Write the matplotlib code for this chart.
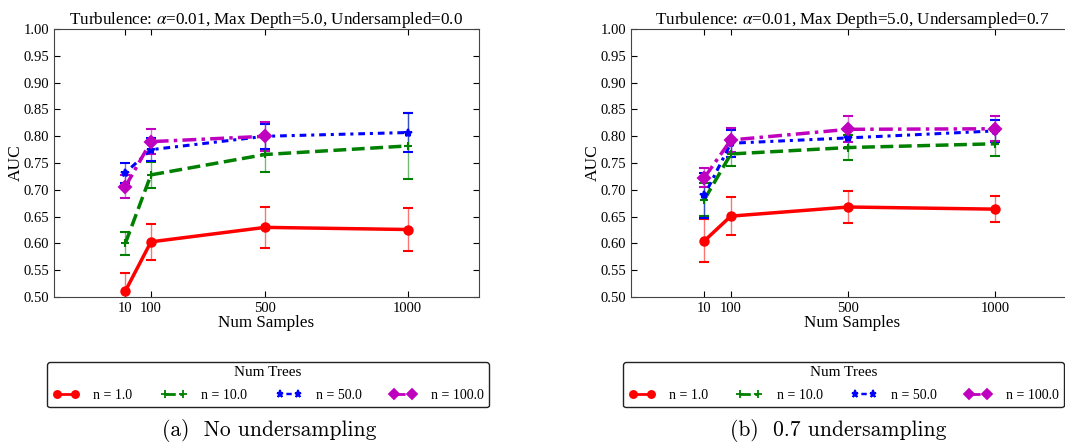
import matplotlib.pyplot as plt
import numpy as np
from matplotlib.lines import Line2D

plt.rcParams["font.family"] = "Liberation Serif"
plt.rcParams["mathtext.fontset"] = "stix"

samples = [10, 100, 500, 1000]
labels = ["n = 1.0", "n = 10.0", "n = 50.0", "n = 100.0"]

# panel (a): undersampled = 0.0
auc_a = [
    [0.511, 0.603, 0.630, 0.626],
    [0.600, 0.728, 0.766, 0.782],
    [0.732, 0.775, 0.800, 0.807],
    [0.706, 0.790, 0.800],
]
err_a = [
    [0.033, 0.033, 0.038, 0.040],
    [0.021, 0.024, 0.033, 0.062],
    [0.019, 0.022, 0.023, 0.037],
    [0.021, 0.023, 0.027],
]

# panel (b): undersampled = 0.7
auc_b = [
    [0.605, 0.651, 0.668, 0.664],
    [0.682, 0.767, 0.779, 0.786],
    [0.690, 0.787, 0.797, 0.810],
    [0.723, 0.793, 0.813, 0.814],
]
err_b = [
    [0.040, 0.035, 0.029, 0.024],
    [0.030, 0.023, 0.024, 0.023],
    [0.042, 0.025, 0.019, 0.020],
    [0.018, 0.022, 0.024, 0.023],
]

colors = ["red", "green", "blue", "m"]
styles = ["-", "--", (0, (1, 1.6, 2.2, 1.6)), (0, (4, 1.5, 1, 1.5))]
markers = ["o", "+", "*", "D"]
widths = [2.5, 2.5, 2.2, 2.5]
msizes = [6, 6, 6, 6]

fig = plt.figure(figsize=(10.65, 4.48), dpi=100)
ax_a = fig.add_axes([0.0507, 0.337, 0.399, 0.598])
ax_b = fig.add_axes([0.5925, 0.337, 0.415, 0.598])


def draw(ax, auc, err, title, xmax):
    for i in range(4):
        x = samples[:len(auc[i])]
        ax.errorbar(x, auc[i], yerr=err[i], color=colors[i], ls=styles[i],
                    marker=markers[i], lw=widths[i], ms=msizes[i], mew=1.5,
                    ecolor=colors[i], elinewidth=1.0, capsize=3.5, capthick=1.0)
    for line in ax.collections:
        line.set_alpha(0.55)
    ax.set_xlim(-240, xmax)
    ax.set_ylim(0.5, 1.0)
    ax.set_xticks(samples)
    ax.set_yticks(np.arange(0.5, 1.001, 0.05))
    ax.set_yticklabels(["%.2f" % v for v in np.arange(0.5, 1.001, 0.05)])
    ax.tick_params(direction="in", top=True, right=True, labelsize=10.5, length=4)
    ax.set_xlabel("Num Samples", fontsize=12.3, labelpad=0)
    ax.set_ylabel("AUC", fontsize=12.5, labelpad=0)
    ax.set_title(title, fontsize=12.3, pad=4)
    for s in ax.spines.values():
        s.set_color("#444444")


draw(ax_a, auc_a, err_a, r"Turbulence: $\alpha$=0.01, Max Depth=5.0, Undersampled=0.0", 1250)
draw(ax_b, auc_b, err_b, r"Turbulence: $\alpha$=0.01, Max Depth=5.0, Undersampled=0.7", 1265)

handles = [Line2D([], [], color=colors[i], ls=styles[i], marker=markers[i],
                  lw=widths[i] * 0.8, ms=msizes[i] * 0.85, mew=1.3) for i in range(4)]

for x0, w in [(0.0441, 0.415), (0.585, 0.414)]:
    leg = fig.legend(handles, labels, title="Num Trees", ncol=4, mode="expand",
                     loc="upper left", bbox_to_anchor=(x0, 0.0, w, 0.192),
                     borderaxespad=0, numpoints=2,
                     fontsize=10, title_fontsize=11, frameon=True, fancybox=True,
                     edgecolor="#222222", handlelength=1.9, borderpad=0.4,
                     labelspacing=0.2, handletextpad=1.0)
    leg.get_title().set_position((0, 2))
    leg._legend_box.sep = 6
    leg.get_frame().set_linewidth(1.0)
    leg.get_frame().set_alpha(1)

fig.text(0.253, 0.04, "(a)  No undersampling", ha="center", va="center",
         fontsize=15.5, family="cmr10")
fig.text(0.787, 0.04, "(b)  0.7 undersampling", ha="center", va="center",
         fontsize=15.5, family="cmr10")

fig.savefig("out.png", dpi=100)
